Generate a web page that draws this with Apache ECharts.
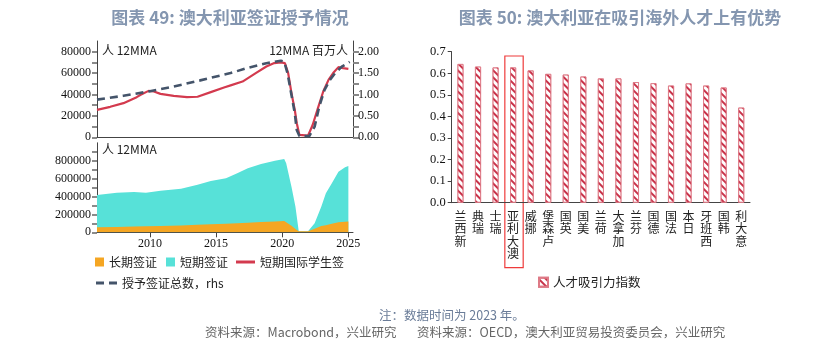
<!DOCTYPE html>
<html>
<head>
<meta charset="utf-8">
<script src="https://cdn.jsdelivr.net/npm/echarts@6/dist/echarts.min.js"></script>
<style>
  html, body { margin: 0; padding: 0; background: #fff; }
  #chart { width: 837px; height: 353px; }
</style>
</head>
<body>
<div id="chart"></div>
<script>
// 图表49 上：短期国际学生签（人，12MMA，左轴）
const studentYears = [2006.0, 2007.0, 2008.0, 2009.0, 2009.3, 2009.9, 2010.3, 2010.8, 2011.8, 2012.8, 2013.6, 2014.6, 2015.6, 2016.1, 2017.0, 2018.0, 2018.8, 2019.4, 2019.9, 2020.2, 2020.45, 2020.7, 2020.95, 2021.1, 2021.3, 2021.95, 2022.3, 2022.7, 2023.1, 2023.5, 2023.85, 2024.25, 2024.6, 2025.0];
const studentVals = [25600, 28500, 31900, 37500, 39700, 43400, 42800, 40600, 38700, 37500, 37900, 42200, 46500, 48500, 52100, 60000, 66200, 69400, 70000, 69400, 60000, 41300, 25600, 13100, 2200, 1500, 11500, 27200, 42800, 53700, 60000, 65600, 64700, 64000];

// 图表49 上：授予签证总数（百万人，右轴）
const totalYears = [2006.0, 2008.0, 2009.9, 2011.8, 2013.8, 2016.1, 2017.3, 2018.8, 2019.9, 2020.15, 2020.4, 2020.7, 2020.95, 2021.1, 2021.3, 2022.05, 2022.45, 2022.8, 2023.2, 2023.6, 2024.0, 2024.5, 2025.1];
const totalVals = [0.88, 0.97, 1.07, 1.185, 1.33, 1.50, 1.615, 1.73, 1.79, 1.77, 1.50, 0.99, 0.56, 0.17, 0.03, 0.03, 0.25, 0.72, 1.11, 1.34, 1.50, 1.65, 1.76];

// 图表49 下：长期 / 短期签证（人，12MMA，堆积）
const visaYears = [2006.0, 2007.5, 2008.8, 2009.7, 2010.8, 2012.35, 2013.6, 2014.6, 2015.75, 2016.6, 2017.4, 2018.4, 2019.45, 2020.15, 2020.3, 2020.7, 2021.0, 2021.25, 2021.95, 2022.45, 2022.95, 2023.3, 2023.75, 2024.25, 2024.75, 2025.0];
const longVals = [56000, 60000, 64000, 67000, 70000, 76000, 83000, 90000, 96000, 101000, 108000, 115000, 121000, 126000, 124000, 72000, 36000, 11000, 11000, 40000, 70000, 80000, 95000, 112000, 118000, 120000];
const shortVals = [361000, 383000, 386000, 376000, 395000, 411000, 449000, 483000, 507000, 558000, 607000, 648000, 679000, 693000, 647000, 438000, 250000, 0, 0, 60000, 216000, 356000, 452000, 565000, 608000, 621000];

// 图表50：人才吸引力指数
const countries = ["新西兰", "瑞典", "瑞士", "澳大利亚", "挪威", "卢森堡", "英国", "美国", "荷兰", "加拿大", "芬兰", "德国", "法国", "日本", "西班牙", "韩国", "意大利"];
const talentIndex = [0.643, 0.631, 0.627, 0.627, 0.613, 0.597, 0.594, 0.585, 0.576, 0.576, 0.559, 0.554, 0.543, 0.553, 0.543, 0.534, 0.441];

// 刻度
const topLeftLabels = [0, 20000, 40000, 60000, 80000];
const topLeftTicks = [0, 10000, 20000, 30000, 40000, 50000, 60000, 70000, 80000];
const topRightLabels = [0, 0.5, 1, 1.5, 2];
const topRightTicks = [0, 0.25, 0.5, 0.75, 1, 1.25, 1.5, 1.75, 2];
const bottomLabels = [0, 200000, 400000, 600000, 800000];
const bottomTicks = [0, 100000, 200000, 300000, 400000, 500000, 600000, 700000, 800000, 900000];
const yearLabels = [2010, 2015, 2020, 2025];

const zip = (xs, ys) => xs.map((x, i) => [x, ys[i]]);
// 短期签证叠在长期签证之上
const stackedTop = longVals.map((v, i) => v + shortVals[i]);

const CJK = '"Noto Sans CJK SC", sans-serif';
const NUM = '"Liberation Serif", serif';
const axisColor = "#444";
const plain = v => String(v);

const chart = echarts.init(document.getElementById("chart"));

const option = {
  animation: false,
  title: [
    {
      text: "图表 49: 澳大利亚签证授予情况",
      left: 225, top: 4, textAlign: "center",
      textStyle: { color: "#8496B0", fontSize: 17, fontWeight: "bold", fontFamily: CJK }
    },
    {
      text: "图表 50: 澳大利亚在吸引海外人才上有优势",
      left: 615, top: 4, textAlign: "center",
      textStyle: { color: "#8496B0", fontSize: 17, fontWeight: "bold", fontFamily: CJK }
    }
  ],
  grid: [
    { left: 97, width: 256, top: 41, height: 96.3 },
    { left: 97, width: 256, top: 142.8, height: 89.5 },
    { left: 451.7, width: 298.3, top: 51.7, height: 151 }
  ],
  legend: [
    {
      data: ["长期签证", "短期签证"],
      left: 90, top: 251, itemWidth: 9, itemHeight: 9, itemGap: 9,
      icon: "rect",
      textStyle: { fontSize: 12, fontFamily: CJK, color: "#222" }
    },
    {
      data: ["短期国际学生签"],
      left: 231, top: 251, itemWidth: 19, itemHeight: 3, icon: "rect",
      textStyle: { fontSize: 12, fontFamily: CJK, color: "#222" }
    },
    {
      data: ["授予签证总数，rhs"],
      left: 91, top: 272, itemWidth: 21, itemHeight: 3,
      icon: "path://M0,0h8v3h-8z M13,0h8v3h-8z",
      textStyle: { fontSize: 12, fontFamily: CJK, color: "#222" }
    },
    {
      data: ["人才吸引力指数"],
      left: 533, top: 271, itemWidth: 9, itemHeight: 9,
      icon: "rect",
      textStyle: { fontSize: 12.5, fontFamily: CJK, color: "#222" }
    }
  ],
  xAxis: [
    {
      gridIndex: 0, type: "value", min: 2006, max: 2025.35,
      axisLine: { lineStyle: { color: axisColor } },
      axisTick: { show: false }, axisLabel: { show: false }, splitLine: { show: false }
    },
    {
      gridIndex: 1, type: "value", min: 2006, max: 2025.35,
      axisLine: { lineStyle: { color: axisColor } },
      axisTick: { customValues: yearLabels, length: 5, lineStyle: { color: axisColor } },
      axisLabel: { customValues: yearLabels, fontSize: 12, fontFamily: NUM, color: "#111", margin: 6, formatter: plain },
      splitLine: { show: false }
    },
    {
      gridIndex: 2, type: "category", data: countries,
      axisLine: { lineStyle: { color: axisColor } },
      axisTick: { length: 4, lineStyle: { color: axisColor } },
      axisLabel: {
        interval: 0, margin: 7, verticalAlign: "top",
        fontSize: 12, lineHeight: 12.6, fontFamily: CJK, color: "#222",
        formatter: v => v.split("").reverse().join("\n")
      }
    }
  ],
  yAxis: [
    {
      gridIndex: 0, type: "value", min: 0, max: 90000,
      axisLine: { show: true, lineStyle: { color: axisColor } },
      axisTick: { show: true, customValues: topLeftTicks, length: 5, lineStyle: { color: "#666", width: 1.5 } },
      axisLabel: { customValues: topLeftLabels, fontSize: 12, fontFamily: NUM, color: "#111", margin: 6, formatter: plain },
      splitLine: { show: false }
    },
    {
      gridIndex: 0, type: "value", position: "right", min: 0, max: 2.25,
      axisLine: { show: true, lineStyle: { color: axisColor } },
      axisTick: { show: true, customValues: topRightTicks, length: 6, lineStyle: { color: "#888", width: 2 } },
      axisLabel: { customValues: topRightLabels, fontSize: 12, fontFamily: NUM, color: "#111", margin: 5, formatter: v => v.toFixed(2) },
      splitLine: { show: false }
    },
    {
      gridIndex: 1, type: "value", min: 0, max: 1000000,
      axisLine: { show: true, lineStyle: { color: axisColor } },
      axisTick: { show: true, customValues: bottomTicks, length: 5, lineStyle: { color: "#666", width: 1.5 } },
      axisLabel: { customValues: bottomLabels, fontSize: 12, fontFamily: NUM, color: "#111", margin: 6, formatter: plain },
      splitLine: { show: false }
    },
    {
      gridIndex: 2, type: "value", min: 0, max: 0.7, interval: 0.1,
      axisLine: { show: true, lineStyle: { color: axisColor } },
      axisTick: { show: true, length: 4, lineStyle: { color: axisColor } },
      axisLabel: { fontSize: 12.5, fontFamily: NUM, color: "#111", margin: 6, formatter: v => v.toFixed(1) },
      splitLine: { show: false }
    }
  ],
  series: [
    {
      name: "短期国际学生签", type: "line", xAxisIndex: 0, yAxisIndex: 0,
      data: zip(studentYears, studentVals), showSymbol: false, symbol: "none",
      color: "#D33A4E", lineStyle: { width: 2.2 }
    },
    {
      name: "授予签证总数，rhs", type: "line", xAxisIndex: 0, yAxisIndex: 1,
      data: zip(totalYears, totalVals), showSymbol: false, symbol: "none",
      color: "#44546A", lineStyle: { width: 2.6, type: [8, 5] }
    },
    {
      name: "短期签证", type: "line", xAxisIndex: 1, yAxisIndex: 2,
      data: zip(visaYears, stackedTop), showSymbol: false, symbol: "none",
      color: "#57E1D8", lineStyle: { width: 0 }, areaStyle: { color: "#57E1D8", opacity: 1 }
    },
    {
      name: "长期签证", type: "line", xAxisIndex: 1, yAxisIndex: 2,
      data: zip(visaYears, longVals), showSymbol: false, symbol: "none",
      color: "#F5A623", lineStyle: { width: 0 }, areaStyle: { color: "#F5A623", opacity: 1 }
    },
    {
      name: "人才吸引力指数", type: "bar", xAxisIndex: 2, yAxisIndex: 3,
      data: talentIndex, barWidth: 6,
      itemStyle: {
        color: "#fff", borderColor: "#DE7A86", borderWidth: 0.8,
        decal: { color: "#C8334A", dashArrayX: [1, 0], dashArrayY: [2, 2.4], rotation: Math.PI / 4, symbol: "rect" }
      }
    }
  ],
  graphic: [
    { type: "text", left: 102, top: 44, style: { text: "人 12MMA", fontSize: 12, fontFamily: CJK, fill: "#222" } },
    { type: "text", right: 489, top: 44, style: { text: "12MMA 百万人", fontSize: 12, fontFamily: CJK, fill: "#222" } },
    { type: "text", left: 102, top: 143, style: { text: "人 12MMA", fontSize: 12, fontFamily: CJK, fill: "#222" } },
    { type: "text", left: 379, top: 309, style: { text: "注：数据时间为 2023 年。", fontSize: 12.5, fontFamily: CJK, fill: "#6A7C98" } },
    { type: "text", left: 205, top: 326, style: { text: "资料来源：Macrobond，兴业研究", fontSize: 12.5, fontFamily: CJK, fill: "#666" } },
    { type: "text", left: 417, top: 326, style: { text: "资料来源：OECD，澳大利亚贸易投资委员会，兴业研究", fontSize: 12.5, fontFamily: CJK, fill: "#666" } }
  ]
};

chart.setOption(option);

// 澳大利亚 高亮框
const idx = countries.indexOf("澳大利亚");
const p0 = chart.convertToPixel({ xAxisIndex: 2, yAxisIndex: 3 }, [idx, 0.68]);
const p1 = chart.convertToPixel({ xAxisIndex: 2, yAxisIndex: 3 }, [idx, 0]);
const band = 298.3 / countries.length;
chart.setOption({
  graphic: option.graphic.concat([{
    type: "rect",
    shape: { x: p0[0] - band / 2 + 0.5, y: p0[1], width: band + 0.8, height: p1[1] - p0[1] + 65 },
    style: { fill: "none", stroke: "#EE3B3B", lineWidth: 1.2 }
  }])
});
</script>
</body>
</html>
